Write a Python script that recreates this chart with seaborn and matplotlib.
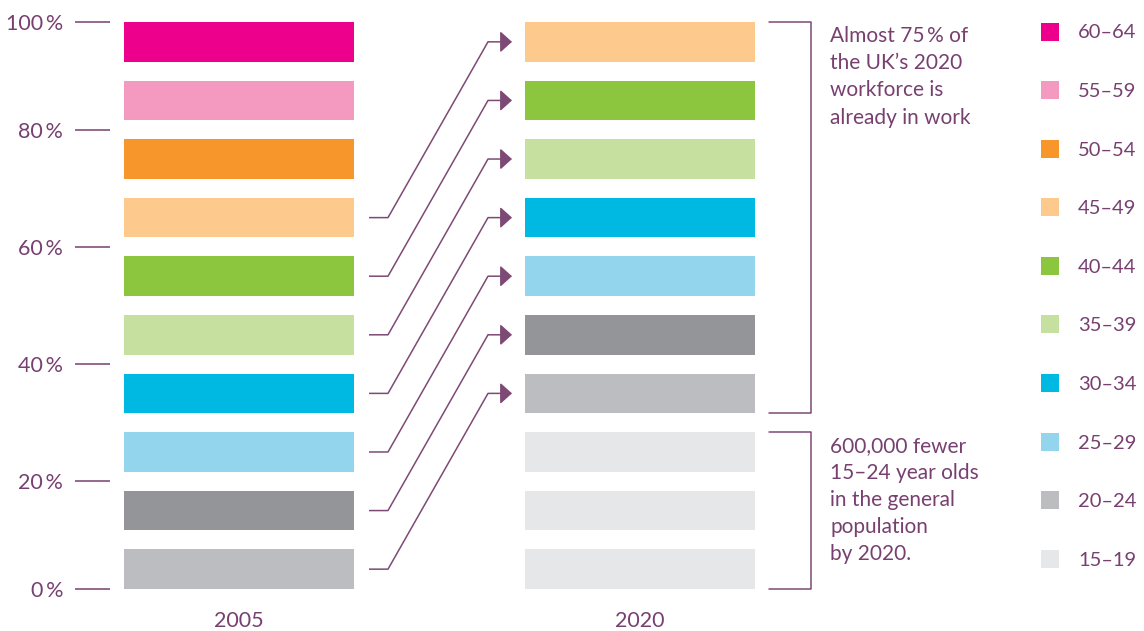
import numpy as np
import pandas as pd
import seaborn as sns
import matplotlib.pyplot as plt

# ---------------- data ----------------
years = ["2005", "2020"]
age_bands = ["15–19", "20–24", "25–29", "30–34", "35–39",
             "40–44", "45–49", "50–54", "55–59", "60–64"]
band_colors = ["#E6E7E8", "#BCBDC0", "#94D5EE", "#00B9E3", "#C6E0A0",
               "#8CC63E", "#FDC98C", "#F7962A", "#F49AC1", "#EC008C"]
# segment colours, bottom to top
seg_colors_2005 = ["#BCBDC0", "#939598", "#94D5EE", "#00B9E3", "#C6E0A0",
                   "#8CC63E", "#FDC98C", "#F7962A", "#F49AC1", "#EC008C"]
seg_colors_2020 = ["#E6E7E8", "#E6E7E8", "#E6E7E8", "#BCBDC0", "#939598",
                   "#94D5EE", "#00B9E3", "#C6E0A0", "#8CC63E", "#FDC98C"]
share_2005 = [10, 10, 10, 10, 10, 10, 10, 10, 10, 10]
share_2020 = [10, 10, 10, 10, 10, 10, 10, 10, 10, 10]
cohort_from = [0, 1, 2, 3, 4, 5, 6]   # 2005 segment
cohort_to = [3, 4, 5, 6, 7, 8, 9]     # same cohort in 2020
ytick_values = [0, 20, 40, 60, 80, 100]
note_top = "Almost 75\u2009% of\nthe UK’s 2020\nworkforce is\nalready in work"
note_bottom = "600,000 fewer\n15–24 year olds\nin the general\npopulation\nby 2020."

# ---------------- style ----------------
sns.set_theme(style="white")
FAM = ["Lato", "DejaVu Sans"]
plt.rcParams["font.family"] = FAM
PURPLE = "#774070"
LINE = "#7d4a75"

W, H, DPI = 1144, 631, 100
fig = plt.figure(figsize=(W / DPI, H / DPI), dpi=DPI)
ax_left_px, ax_bottom_px, ax_top_px = 110, 589, 22
ax = fig.add_axes([ax_left_px / W, (H - ax_bottom_px) / H, 1 - ax_left_px / W,
                   (ax_bottom_px - ax_top_px) / H])

PX = 1 / 401.0            # data units per pixel in x (category spacing 401 px)
PY = 100 / 567.0          # data units per pixel in y
bar_w = 230 * PX
fill_ratio = 0.6774       # visible part of each band

n = len(share_2005)
scale = 100 / (sum(share_2005) - share_2005[-1] * (1 - fill_ratio))
bottoms = np.concatenate([[0], np.cumsum(share_2005[:-1])]) * scale
heights_2005 = np.array(share_2005) * fill_ratio * scale
heights_2020 = np.array(share_2020) * fill_ratio * scale
tops = bottoms + heights_2005

for k in range(n):
    df_k = pd.DataFrame({"year": years,
                         "height": [heights_2005[k], heights_2020[k]]})
    sns.barplot(data=df_k, x="year", y="height", hue="year",
                palette={years[0]: seg_colors_2005[k], years[1]: seg_colors_2020[k]},
                legend=False, width=bar_w, bottom=bottoms[k], saturation=1,
                errorbar=None, ax=ax, linewidth=0)

ax.set_xlim((ax_left_px - 239) * PX, (W - 239) * PX)
ax.set_ylim(0, 100)
ax.set_xlabel("")
ax.set_ylabel("")
for s in ax.spines.values():
    s.set_visible(False)


def share_pos(v):
    """Position of a cumulative share on the banded axis (gap centre inside)."""
    cum = np.concatenate([[0], np.cumsum(share_2005)])
    idx = int(np.argmin(np.abs(cum - v)))
    if idx == 0:
        return 0.0
    if idx == n:
        return 100.0
    return (tops[idx - 1] + bottoms[idx]) / 2


ax.set_yticks([share_pos(v) for v in ytick_values],
              labels=[f"{v}\u2009%" for v in ytick_values])
ax.tick_params(axis="y", length=25.2, width=1.1, color=PURPLE, pad=8.6,
               labelsize=15.5, labelcolor=PURPLE, direction="out", left=True)
ax.tick_params(axis="x", length=0, pad=15.5, labelsize=15.5, labelcolor=PURPLE)
for lab in ax.get_xticklabels() + ax.get_yticklabels():
    lab.set_family(FAM)

# ---------------- cohort arrows ----------------
x_start = bar_w / 2 + 15 * PX
x_elbow = bar_w / 2 + 34 * PX
x_diag = 1 - bar_w / 2 - 37 * PX
x_tip = 1 - bar_w / 2 - 13 * PX
for i, j in zip(cohort_from, cohort_to):
    y0 = bottoms[i] + heights_2005[i] / 2
    y1 = bottoms[j] + heights_2020[j] / 2
    ax.plot([x_start, x_elbow, x_diag], [y0, y0, y1], color=LINE, lw=1.1,
            solid_capstyle="butt", clip_on=False)
    ax.annotate("", xy=(x_tip, y1), xytext=(x_diag, y1),
                arrowprops=dict(arrowstyle="-|>,head_length=0.72,head_width=0.65",
                                mutation_scale=10, color=LINE, lw=1.1,
                                shrinkA=0, shrinkB=0))

# ---------------- brackets & notes ----------------
xb0 = 1 + bar_w / 2 + 14 * PX
xb1 = 1 + bar_w / 2 + 56 * PX
x_note = 1 + bar_w / 2 + 75 * PX

top_hi = bottoms[cohort_to[-1]] + heights_2020[cohort_to[-1]]
top_lo = bottoms[cohort_to[0]]
ax.plot([xb0, xb1, xb1, xb0], [top_hi, top_hi, top_lo, top_lo],
        color=LINE, lw=1.1, clip_on=False)
bot_hi = bottoms[cohort_to[0] - 1] + heights_2020[cohort_to[0] - 1]
bot_lo = bottoms[0]
ax.plot([xb0, xb1, xb1, xb0], [bot_hi, bot_hi, bot_lo, bot_lo],
        color=LINE, lw=1.1, clip_on=False)

ax.text(x_note, top_hi - 4 * PY, note_top, ha="left", va="top", fontsize=15,
        color=PURPLE, linespacing=1.45, family=FAM)
ax.text(x_note, bot_hi - 3.5 * PY, note_bottom, ha="left", va="top", fontsize=15,
        color=PURPLE, linespacing=1.45, family=FAM)

# ---------------- legend (rows aligned with bands) ----------------
x_sq = (1050 - 239) * PX
x_lab = (1078 - 239) * PX
for k, (band, col) in enumerate(zip(age_bands, band_colors)):
    y = tops[k] - 9.5 * PY
    ax.scatter([x_sq], [y], marker="s", s=185, color=col, linewidths=0,
               clip_on=False, zorder=3)
    ax.text(x_lab, y - 1.5 * PY, band, ha="left", va="center", fontsize=14.5,
            color=PURPLE, family=FAM)

fig.savefig("out.png", dpi=DPI, facecolor="white")
